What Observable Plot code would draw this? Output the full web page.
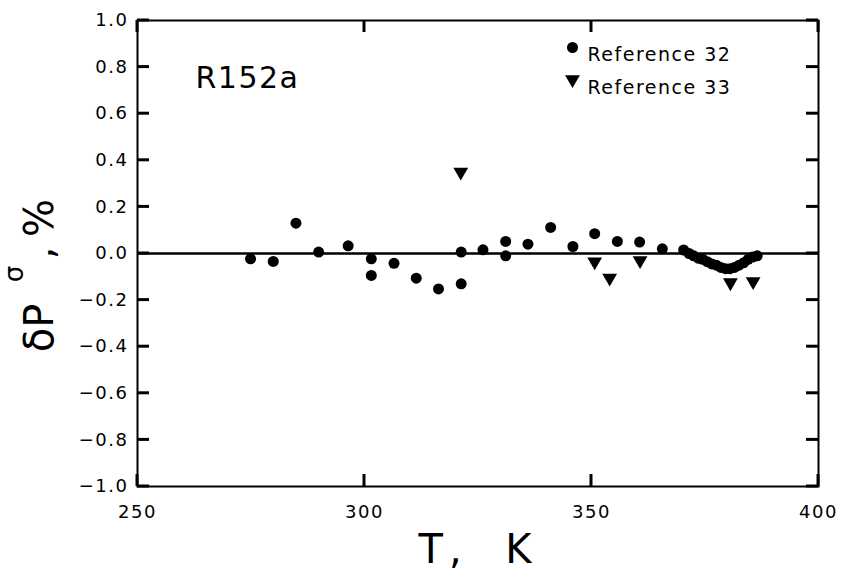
<!DOCTYPE html>
<html>
<head>
<meta charset="utf-8">
<script src="https://cdn.jsdelivr.net/npm/d3@7"></script>
<script src="https://cdn.jsdelivr.net/npm/@observablehq/plot@0.6"></script>
<style>
  html, body { margin: 0; padding: 0; background: #fff; }
  #chart svg { display: block; }
</style>
</head>
<body>
<div id="chart"></div>
<script>
// Reference 32 (circles)
const ref32T = [274.9, 279.9, 284.9, 289.9, 296.4, 301.5, 301.5, 306.5, 311.4, 316.3,
                321.3, 321.3, 326.1, 331.1, 331.1, 336.0, 341.0, 345.9, 350.7, 355.7,
                360.6, 365.6, 370.3, 371.5, 372.5, 373.5, 374.5, 375.5, 376.5, 377.5,
                378.5, 379.5, 380.5, 381.5, 382.5, 383.5, 384.5, 385.5, 386.5];
const ref32V = [-0.023, -0.034, 0.13, 0.006, 0.033, -0.023, -0.094, -0.042, -0.106, -0.152,
                0.006, -0.13, 0.016, 0.052, -0.01, 0.04, 0.112, 0.03, 0.085, 0.052,
                0.049, 0.02, 0.015, 0.0, -0.01, -0.02, -0.025, -0.035, -0.045, -0.05,
                -0.06, -0.065, -0.065, -0.06, -0.05, -0.04, -0.025, -0.015, -0.01];
// Reference 33 (down triangles)
const ref33T = [321.2, 350.7, 354.0, 360.7, 380.6, 385.6];
const ref33V = [0.35, -0.035, -0.105, -0.03, -0.125, -0.12];

const xTicks = [250, 300, 350, 400];
const yTicks = [-1.0, -0.8, -0.6, -0.4, -0.2, 0.0, 0.2, 0.4, 0.6, 0.8, 1.0];
const seriesNames = ["Reference 32", "Reference 33"];
const panelLabel = "R152a";

const xDomain = [250, 400];
const yDomain = [-1, 1];

const ref32 = ref32T.map((t, i) => ({T: t, v: ref32V[i]}));
const ref33 = ref33T.map((t, i) => ({T: t, v: ref33V[i]}));

const font = "'DejaVu Sans', sans-serif";
const fmt = d3.format(".1f");

const W = 841, H = 571;
const mL = 137, mR = 23, mT = 20, mB = 85;
const TS = 12; // inward tick length, px

const chart = Plot.plot({
  width: W,
  height: H,
  marginLeft: mL,
  marginRight: mR,
  marginTop: mT,
  marginBottom: mB,
  style: {fontFamily: font, background: "#fff", color: "#000"},
  x: {domain: xDomain},
  y: {domain: yDomain},
  marks: [
    // tick labels
    Plot.axisX({anchor: "bottom", ticks: xTicks, tickSize: 0, tickPadding: 19, fontSize: 18, label: null, tickFormat: d => String(d)}),
    Plot.axisY({anchor: "left", ticks: yTicks, tickSize: 0, tickPadding: 9, fontSize: 18, label: null, tickFormat: fmt}),
    Plot.frame({stroke: "#000", strokeWidth: 2}),
    Plot.ruleY([0], {stroke: "#000", strokeWidth: 2.5}),
    Plot.dot(ref32, {x: "T", y: "v", r: 5.5, fill: "#000", stroke: "none", symbol: "circle"}),
    Plot.dot(ref33, {x: "T", y: "v", r: 5.5, fill: "#000", stroke: "none", symbol: "triangle", rotate: 180}),
    // legend
    Plot.dot([seriesNames[0]], {frameAnchor: "top-right", dx: -246, dy: 27, r: 5.5, fill: "#000", symbol: "circle"}),
    Plot.dot([seriesNames[1]], {frameAnchor: "top-right", dx: -246, dy: 59, r: 5.5, fill: "#000", symbol: "triangle", rotate: 180}),
    Plot.text([seriesNames[0]], {text: d => d, frameAnchor: "top-right", textAnchor: "start", dx: -231, dy: 27, fontSize: 19, fill: "#000"}),
    Plot.text([seriesNames[1]], {text: d => d, frameAnchor: "top-right", textAnchor: "start", dx: -231, dy: 60, fontSize: 19, fill: "#000"}),
    Plot.text([panelLabel], {text: d => d, frameAnchor: "top-left", textAnchor: "start", dx: 58, dy: 46, fontSize: 30, fill: "#000", lineAnchor: "top"})
  ]
});

const svg = d3.select(chart);
svg.selectAll("text").style("letter-spacing", "1.5px");

// inward ticks on all four sides, positioned with Plot's own scales
const sx = chart.scale("x"), sy = chart.scale("y");
const x0 = sx.apply(xDomain[0]), x1 = sx.apply(xDomain[1]);
const y0 = sy.apply(yDomain[0]), y1 = sy.apply(yDomain[1]);
const tg = svg.append("g").attr("stroke", "#000").attr("stroke-width", 3);
for (const t of xTicks) {
  const px = sx.apply(t);
  tg.append("line").attr("x1", px).attr("x2", px).attr("y1", y0).attr("y2", y0 - TS);
  tg.append("line").attr("x1", px).attr("x2", px).attr("y1", y1).attr("y2", y1 + TS);
}
for (const t of yTicks) {
  const py = sy.apply(t);
  tg.append("line").attr("y1", py).attr("y2", py).attr("x1", x0).attr("x2", x0 + TS);
  tg.append("line").attr("y1", py).attr("y2", py).attr("x1", x1).attr("x2", x1 - TS);
}

// y-axis title: δP^σ, %
const yl = svg.append("text")
  .attr("transform", "translate(53,328) rotate(-90)")
  .attr("font-family", font)
  .attr("font-size", 40)
  .attr("fill", "#000");
yl.append("tspan").attr("x", 0).attr("y", 0).text("δP");
yl.append("tspan").attr("x", 54).attr("y", -30).attr("font-size", 26).text("σ");
yl.append("tspan").attr("x", 75).attr("y", 0).text(",");
yl.append("tspan").attr("x", 110).attr("y", 0).text("%");

// x-axis title
svg.append("text")
  .attr("x", 478)
  .attr("y", 563)
  .attr("text-anchor", "middle")
  .attr("font-family", font)
  .attr("font-size", 40)
  .attr("fill", "#000")
  .style("letter-spacing", "6px")
  .text("T,  K");

document.getElementById("chart").appendChild(chart);
</script>
</body>
</html>
